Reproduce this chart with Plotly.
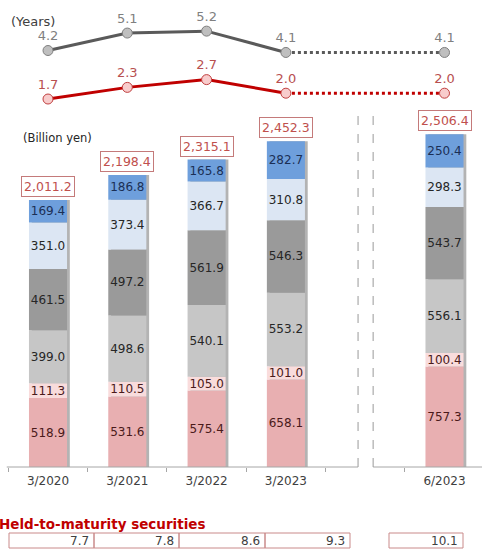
import plotly.graph_objects as go
import numpy as np

W, H = 482, 552
FONT = "DejaVu Sans"

categories = ["3/2020", "3/2021", "3/2022", "3/2023", "6/2023"]
axis_categories = ["3/2020", "3/2021", "3/2022", "3/2023", " ", "6/2023"]

# stacked segments, bottom to top
seg_pink = [518.9, 531.6, 575.4, 658.1, 757.3]
seg_lightpink = [111.3, 110.5, 105.0, 101.0, 100.4]
seg_lightgray = [399.0, 498.6, 540.1, 553.2, 556.1]
seg_gray = [461.5, 497.2, 561.9, 546.3, 543.7]
seg_paleblue = [351.0, 373.4, 366.7, 310.8, 298.3]
seg_blue = [169.4, 186.8, 165.8, 282.7, 250.4]
totals = [2011.2, 2198.4, 2315.1, 2452.3, 2506.4]

# durations (years)
years_gray = [4.2, 5.1, 5.2, 4.1, 4.1]
years_red = [1.7, 2.3, 2.7, 2.0, 2.0]

# held-to-maturity securities
htm_values = [7.7, 7.8, 8.6, 9.3, 10.1]

segments = [
    (seg_pink, "#e8afb1", "#4a1a1a"),
    (seg_lightpink, "#f9dcdc", "#4a1a1a"),
    (seg_lightgray, "#c6c6c6", "#262626"),
    (seg_gray, "#9a9a9a", "#262626"),
    (seg_paleblue, "#dce6f3", "#262626"),
    (seg_blue, "#6e9fdc", "#1b2f55"),
]

def py(px):
    return 1 - px / H

def px_(x):
    return x / W

BW = 0.48
fig = go.Figure()

stack_height = np.sum([s[0] for s in segments], axis=0)
# shadow behind bars
fig.add_trace(go.Bar(x=categories, y=stack_height, base=0, width=BW, offset=-BW / 2 + 0.035,
                     marker=dict(color="#b3b3b3", line=dict(width=0)), hoverinfo="skip",
                     showlegend=False))

base = np.zeros(len(categories))
for vals, col, tcol in segments:
    fig.add_trace(go.Bar(
        x=categories, y=vals, base=base.copy(), width=BW, offset=-BW / 2,
        marker=dict(color=col, line=dict(width=0)),
        texttemplate="%{y:.1f}", textposition="inside", insidetextanchor="middle",
        textangle=0, textfont=dict(family=FONT, size=12, color=tcol),
        showlegend=False))
    base = base + np.array(vals)

# spacer category registration
fig.add_trace(go.Scatter(x=[" "], y=[None], mode="markers", showlegend=False, hoverinfo="skip"))

# lines (top panel)
solid_n = 4
for vals, lcol, mfill, mline, tcol in [
    (years_gray, "#5a5a5a", "#bfbfbf", "#7f7f7f", "#808080"),
    (years_red, "#c00000", "#f8cccc", "#c04040", "#b85050"),
]:
    fig.add_trace(go.Scatter(x=categories[solid_n - 1:], y=vals[solid_n - 1:], mode="lines",
                             line=dict(color=lcol, width=3, dash="dot"),
                             xaxis="x2", yaxis="y2", showlegend=False, hoverinfo="skip"))
    fig.add_trace(go.Scatter(x=categories[:solid_n], y=vals[:solid_n], mode="lines",
                             line=dict(color=lcol, width=3),
                             xaxis="x2", yaxis="y2", showlegend=False, hoverinfo="skip"))
    fig.add_trace(go.Scatter(x=categories, y=vals, mode="markers+text",
                             marker=dict(size=10, color=mfill, line=dict(color=mline, width=1)),
                             text=[f"{v:.1f}" for v in vals], textposition="top center",
                             textfont=dict(family=FONT, size=13, color=tcol),
                             xaxis="x2", yaxis="y2", showlegend=False, hoverinfo="skip"))

# total labels
for c, t, h in zip(categories, totals, stack_height):
    fig.add_annotation(x=c, y=h, xref="x", yref="y", text=f"{t:,.1f}", showarrow=False,
                       yanchor="bottom", yshift=3, bordercolor="#c47a7a", borderwidth=1,
                       borderpad=2, bgcolor="white",
                       font=dict(family=FONT, size=12.5, color="#c0504d"))

xr = [-48 / 79.3, (W - 48) / 79.3]
fig.update_layout(
    width=W, height=H, margin=dict(l=0, r=0, t=0, b=0),
    paper_bgcolor="white", plot_bgcolor="white",
    barmode="overlay", uniformtext=dict(minsize=12, mode="show"),
    font=dict(family=FONT, color="#404040"),
    xaxis=dict(type="category", categoryorder="array", categoryarray=axis_categories,
               range=xr, domain=[0, 1], showgrid=False, zeroline=False, showline=False,
               ticks="outside", tickson="boundaries", ticklen=4, tickcolor="#a6a6a6",
               ticklabelstandoff=5,
               tickfont=dict(family=FONT, size=12, color="#404040"), anchor="y"),
    yaxis=dict(domain=[py(467), py(110)], range=[0, 2688], visible=False, showgrid=False),
    xaxis2=dict(type="category", categoryorder="array", categoryarray=axis_categories,
                range=xr, domain=[0, 1], visible=False, anchor="y2"),
    yaxis2=dict(domain=[py(110), py(10)], range=[1.134, 6.289], visible=False, showgrid=False),
)

# axis line segments with gap, and dashed separators
gap_l, gap_r = 3.91, 4.10
for x0, x1 in [(-0.52, gap_l), (gap_r, 5.6)]:
    fig.add_shape(type="line", xref="x", yref="paper", x0=x0, x1=x1, y0=py(467), y1=py(467),
                  line=dict(color="#a6a6a6", width=1))
for gx in [gap_l, gap_r]:
    fig.add_shape(type="line", xref="x", yref="paper", x0=gx, x1=gx, y0=py(467), y1=py(112),
                  line=dict(color="#9a9a9a", width=1, dash="dash"))

# unit labels
fig.add_annotation(x=px_(9), y=py(21), xref="paper", yref="paper", text="(Years)",
                   showarrow=False, xanchor="left", yanchor="middle",
                   font=dict(family=FONT, size=13, color="#404040"))
fig.add_annotation(x=px_(21), y=py(138), xref="paper", yref="paper", text="(Billion yen)",
                   showarrow=False, xanchor="left", yanchor="middle",
                   font=dict(family=FONT, size=11.5, color="#262626"))

# held-to-maturity table
fig.add_annotation(x=px_(-3), y=py(524), xref="paper", yref="paper",
                   text="<b>Held-to-maturity securities</b>", showarrow=False,
                   xanchor="left", yanchor="middle",
                   font=dict(family=FONT, size=13.5, color="#c00000"))
cells = [(9, 94), (94, 179), (179, 265), (265, 350), (389, 463)]
for (x0, x1), v in zip(cells, htm_values):
    fig.add_shape(type="rect", xref="paper", yref="paper", x0=px_(x0), x1=px_(x1),
                  y0=py(548), y1=py(533), line=dict(color="#c98a8a", width=1),
                  fillcolor="rgba(0,0,0,0)")
    fig.add_annotation(x=px_(x1 - 3), y=py(540.5), xref="paper", yref="paper",
                       text=f"{v:.1f}", showarrow=False, xanchor="right", yanchor="middle",
                       font=dict(family=FONT, size=12, color="#404040"))

fig.write_html("out.html", config={"displayModeBar": False},
               post_script="document.body.style.margin='0';document.body.style.overflow='hidden';")
